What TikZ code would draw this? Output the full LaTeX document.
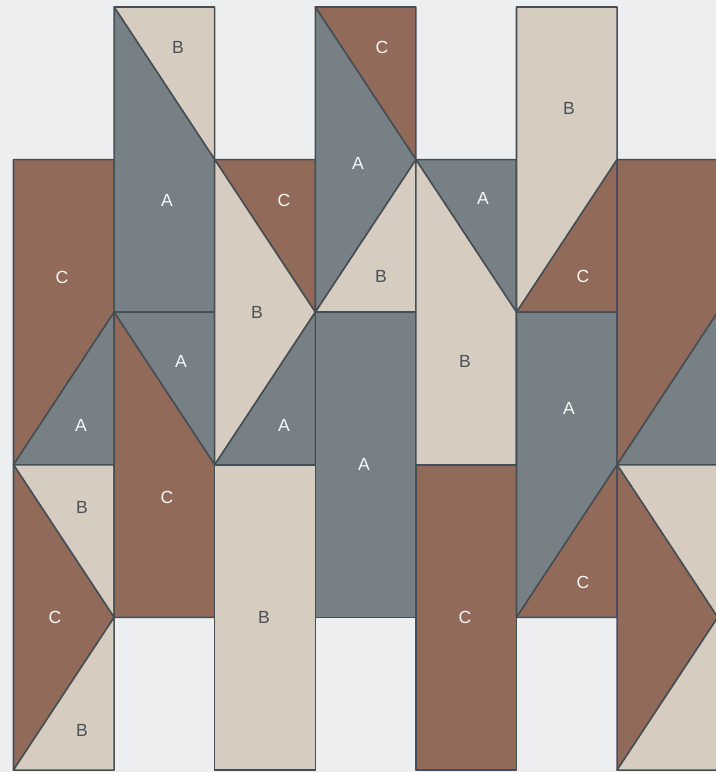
\documentclass[tikz,border=0pt]{standalone}
\usepackage{fontspec}
\setmainfont{Liberation Sans}
\usepackage{xcolor}
\usepackage{tikz}
\definecolor{TileA}{HTML}{778084}
\definecolor{TileB}{HTML}{D6CDC0}
\definecolor{TileC}{HTML}{926A59}
\definecolor{Edge}{HTML}{464E55}
\definecolor{Paper}{HTML}{ECEEF0}
\definecolor{DarkText}{HTML}{4A5157}

\begin{document}
\begin{tikzpicture}[
  x=2.515cm, y=-3.815cm,
  font=\fontsize{12.5pt}{14pt}\selectfont,
  tile/.style={draw=Edge,line width=1.1pt,line join=round},
  tileA/.style={tile,fill=TileA},
  tileB/.style={tile,fill=TileB},
  tileC/.style={tile,fill=TileC},
  lbl/.style={inner sep=0pt,color=white!94!TileA},
  lblB/.style={inner sep=0pt,color=DarkText}
]
\fill[Paper] (-0.1342,-0.0459) rectangle (6.983,5.013);
\useasboundingbox (-0.1342,-0.0459) rectangle (6.983,5.013);
\clip (-0.1342,-0.0459) rectangle (6.983,5.013);

% column 1
\filldraw[tileC] (0,1)--(1,1)--(1,2)--(0,3)--cycle;
\filldraw[tileA] (1,2)--(1,3)--(0,3)--cycle;
\filldraw[tileB] (0,3)--(1,3)--(1,4)--cycle;
\filldraw[tileC] (0,3)--(1,4)--(0,5)--cycle;
\filldraw[tileB] (1,4)--(1,5)--(0,5)--cycle;
% column 2
\filldraw[tileB] (1,0)--(2,0)--(2,1)--cycle;
\filldraw[tileA] (1,0)--(2,1)--(2,2)--(1,2)--cycle;
\filldraw[tileA] (1,2)--(2,2)--(2,3)--cycle;
\filldraw[tileC] (1,2)--(2,3)--(2,4)--(1,4)--cycle;
% column 3
\filldraw[tileC] (2,1)--(3,1)--(3,2)--cycle;
\filldraw[tileB] (2,1)--(3,2)--(2,3)--cycle;
\filldraw[tileA] (3,2)--(3,3)--(2,3)--cycle;
\filldraw[tileB] (2,3) rectangle (3,5);
% column 4
\filldraw[tileC] (3,0)--(4,0)--(4,1)--cycle;
\filldraw[tileA] (3,0)--(4,1)--(3,2)--cycle;
\filldraw[tileB] (4,1)--(4,2)--(3,2)--cycle;
\filldraw[tileA] (3,2) rectangle (4,4);
% column 5
\filldraw[tileA] (4,1)--(5,1)--(5,2)--cycle;
\filldraw[tileB] (4,1)--(5,2)--(5,3)--(4,3)--cycle;
\filldraw[tileC] (4,3) rectangle (5,5);
% column 6
\filldraw[tileB] (5,0)--(6,0)--(6,1)--(5,2)--cycle;
\filldraw[tileC] (6,1)--(6,2)--(5,2)--cycle;
\filldraw[tileA] (5,2)--(6,2)--(6,3)--(5,4)--cycle;
\filldraw[tileC] (6,3)--(6,4)--(5,4)--cycle;
% column 7 (cut by the edge)
\filldraw[tileC] (6,1)--(7,1)--(7,2)--(6,3)--cycle;
\filldraw[tileA] (7,2)--(7,3)--(6,3)--cycle;
\filldraw[tileB] (6,3)--(7,3)--(7,4)--cycle;
\filldraw[tileC] (6,3)--(7,4)--(6,5)--cycle;
\filldraw[tileB] (7,4)--(7,5)--(6,5)--cycle;

% labels
\node[lbl] (c1top) at (0.482,1.769) {C};
\node[lbl] (a1mid) at (0.671,2.739) {A};
\node[lblB] (b1up) at (0.681,3.277) {B};
\node[lbl] (c1low) at (0.413,3.997) {C};
\node[lblB] (b1low) at (0.681,4.738) {B};

\node[lblB] (b2top) at (1.635,0.262) {B};
\node[lbl] (a2up) at (1.526,1.265) {A};
\node[lbl] (a2mid) at (1.665,2.320) {A};
\node[lbl] (c2low) at (1.526,3.211) {C};

\node[lbl] (c3top) at (2.689,1.265) {C};
\node[lblB] (b3mid) at (2.420,1.999) {B};
\node[lbl] (a3mid) at (2.689,2.739) {A};
\node[lblB] (b3low) at (2.490,3.997) {B};

\node[lbl] (c4top) at (3.663,0.262) {C};
\node[lbl] (a4up) at (3.425,1.022) {A};
\node[lblB] (b4mid) at (3.653,1.763) {B};
\node[lbl] (a4low) at (3.484,2.995) {A};

\node[lbl] (a5top) at (4.667,1.252) {A};
\node[lblB] (b5mid) at (4.488,2.320) {B};
\node[lbl] (c5low) at (4.488,3.997) {C};

\node[lblB] (b6top) at (5.522,0.662) {B};
\node[lbl] (c6up) at (5.661,1.763) {C};
\node[lbl] (a6mid) at (5.522,2.628) {A};
\node[lbl] (c6low) at (5.661,3.768) {C};
\end{tikzpicture}
\end{document}
